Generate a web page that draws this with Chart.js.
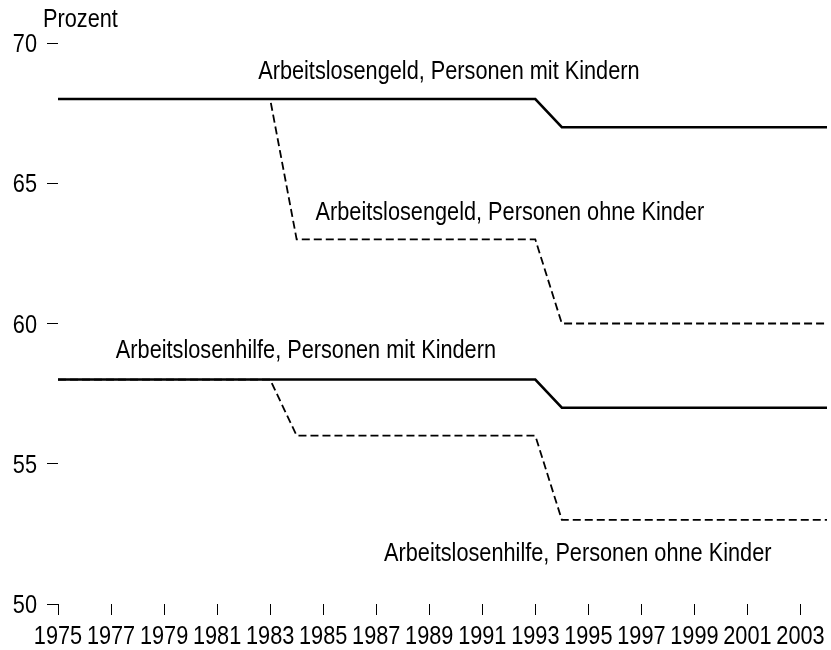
<!DOCTYPE html>
<html><head><meta charset="utf-8">
<script src="https://cdn.jsdelivr.net/npm/chart.js@4/dist/chart.umd.min.js"></script>
<style>html,body{margin:0;padding:0;background:#fff}#wrap{width:831px;height:650px}</style>
</head><body><div id="wrap"><canvas id="c" width="831" height="650"></canvas></div>
<script>
const years = [1975,1976,1977,1978,1979,1980,1981,1982,1983,1984,1985,1986,1987,1988,1989,1990,1991,1992,1993,1994,1995,1996,1997,1998,1999,2000,2001,2002,2003,2004];
const algMitKindern   = [68,68,68,68,68,68,68,68,68,68,68,68,68,68,68,68,68,68,68,67,67,67,67,67,67,67,67,67,67,67];
const algOhneKinder   = [68,68,68,68,68,68,68,68,68,63,63,63,63,63,63,63,63,63,63,60,60,60,60,60,60,60,60,60,60,60];
const alhMitKindern   = [58,58,58,58,58,58,58,58,58,58,58,58,58,58,58,58,58,58,58,57,57,57,57,57,57,57,57,57,57,57];
const alhOhneKinder   = [58,58,58,58,58,58,58,58,58,56,56,56,56,56,56,56,56,56,56,53,53,53,53,53,53,53,53,53,53,53];
const xTickLabels = [1975,1977,1979,1981,1983,1985,1987,1989,1991,1993,1995,1997,1999,2001,2003];
const yTickLabels = [50,55,60,65,70];
const seriesNames = ["Arbeitslosengeld, Personen mit Kindern","Arbeitslosengeld, Personen ohne Kinder","Arbeitslosenhilfe, Personen mit Kindern","Arbeitslosenhilfe, Personen ohne Kinder"];
const labelAnchors = [[1989.74,68.98],[1992.04,63.95],[1984.35,59.02],[1994.6,51.78]];
const yTitle = "Prozent";

const FONT = "'Liberation Sans', Arial, sans-serif";
const SX = 0.835;
const pts = arr => years.map((y,i)=>({x:y,y:arr[i]}));

function narrowText(ctx, txt, x, y, align){
  ctx.save();
  ctx.translate(x, y);
  ctx.scale(SX, 1);
  ctx.textAlign = align;
  ctx.fillText(txt, 0, 0);
  ctx.restore();
}

const labelPlugin = {
  id:'labels',
  afterDraw(chart){
    const ctx = chart.ctx, xs = chart.scales.x, ys = chart.scales.y;
    ctx.save();
    ctx.fillStyle = '#000';
    ctx.font = "26px " + FONT;
    ctx.textBaseline = 'middle';
    seriesNames.forEach((n,i)=>{
      narrowText(ctx, n, xs.getPixelForValue(labelAnchors[i][0]), ys.getPixelForValue(labelAnchors[i][1]), 'center');
    });
    narrowText(ctx, yTitle, 43, 20, 'left');
    xTickLabels.forEach(v=>{
      narrowText(ctx, String(v), xs.getPixelForValue(v), 637, 'center');
    });
    yTickLabels.forEach(v=>{
      narrowText(ctx, String(v), 37, ys.getPixelForValue(v)+2, 'right');
    });
    ctx.restore();
  }
};

new Chart(document.getElementById('c'), {
  type:'line',
  data:{datasets:[
    {data:pts(algMitKindern), borderColor:'#000', borderWidth:2.5, pointRadius:0, tension:0},
    {data:pts(algOhneKinder), borderColor:'#000', borderWidth:1.8, borderDash:[8,4], pointRadius:0, tension:0},
    {data:pts(alhMitKindern), borderColor:'#000', borderWidth:2.5, pointRadius:0, tension:0},
    {data:pts(alhOhneKinder), borderColor:'#000', borderWidth:1.8, borderDash:[8,4], pointRadius:0, tension:0}
  ]},
  options:{
    responsive:false, animation:false,
    layout:{padding:{top:43,right:4,left:0,bottom:0}},
    plugins:{legend:{display:false}, tooltip:{enabled:false}},
    scales:{
      x:{type:'linear', min:1975, max:2004,
        afterBuildTicks(s){ s.ticks = xTickLabels.map(v=>({value:v})); },
        afterFit(s){ s.height = 46; },
        border:{display:false},
        grid:{drawOnChartArea:false, drawTicks:true, tickLength:11, color:'#000', lineWidth:1},
        ticks:{display:false}
      },
      y:{min:50, max:70,
        afterBuildTicks(s){ s.ticks = yTickLabels.map(v=>({value:v})); },
        afterFit(s){ s.width = 58; },
        border:{display:false},
        grid:{drawOnChartArea:false, drawTicks:true, tickLength:11, color:'#000', lineWidth:1},
        ticks:{display:false}
      }
    }
  },
  plugins:[labelPlugin]
});
</script></body></html>
